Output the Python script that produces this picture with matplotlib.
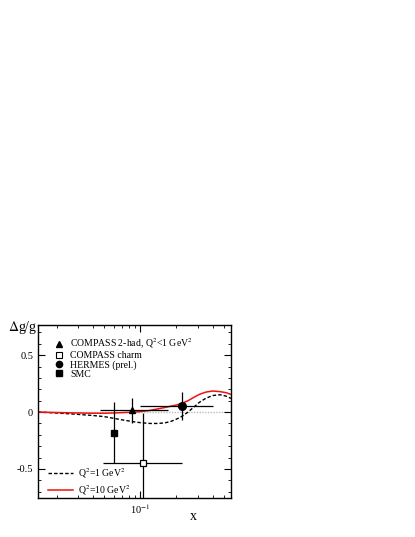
import numpy as np
import matplotlib.pyplot as plt
from matplotlib.lines import Line2D
from matplotlib.ticker import FixedLocator, NullFormatter, MultipleLocator

plt.rcParams['font.family'] = ['Liberation Serif', 'DejaVu Serif']
plt.rcParams['mathtext.fontset'] = 'stix'

# data points
compass_had_x = [0.085]
compass_had_y = [0.016]
compass_had_yerr = [0.11]
compass_had_xerr = [[0.085 - 0.046], [0.171 - 0.085]]

compass_charm_x = [0.105]
compass_charm_y = [-0.45]
compass_charm_yerr = [0.44]
compass_charm_xerr = [[0.105 - 0.049], [0.224 - 0.105]]

hermes_x = [0.224]
hermes_y = [0.053]
hermes_yerr = [0.12]
hermes_xerr = [[0.224 - 0.100], [0.405 - 0.224]]

smc_x = [0.06]
smc_y = [-0.18]
smc_yerr = [0.27]

# curves
q1_x = [0.014, 0.02, 0.03, 0.04, 0.05, 0.06, 0.07, 0.08, 0.09, 0.10, 0.12, 0.14,
        0.16, 0.18, 0.20, 0.22, 0.25, 0.28, 0.31, 0.35, 0.40, 0.46, 0.52, 0.57]
q1_y = [0.0, -0.008, -0.02, -0.03, -0.04, -0.055, -0.068, -0.078, -0.087, -0.093, -0.1, -0.1,
        -0.095, -0.082, -0.062, -0.04, 0.0, 0.045, 0.085, 0.12, 0.145, 0.152, 0.14, 0.12]

q10_x = [0.014, 0.02, 0.03, 0.04, 0.05, 0.06, 0.07, 0.08, 0.09, 0.10, 0.12, 0.14,
         0.16, 0.18, 0.20, 0.22, 0.25, 0.28, 0.31, 0.35, 0.40, 0.46, 0.52, 0.57]
q10_y = [0.0, -0.004, -0.008, -0.01, -0.01, -0.008, -0.005, -0.002, 0.0, 0.004, 0.014, 0.028,
         0.04, 0.052, 0.062, 0.075, 0.1, 0.13, 0.155, 0.175, 0.185, 0.18, 0.17, 0.155]

fig = plt.figure(figsize=(4.15, 5.37), dpi=100)
ax = fig.add_axes([38 / 415, 1 - 498 / 537, 193 / 415, 173 / 537])

ax.axhline(0, color='#bbbbbb', lw=1.0, ls=(0, (1, 1)), zorder=1)

ax.plot(q1_x, q1_y, color='black', lw=1.0, ls=(0, (2.5, 1.5)), zorder=2,
        label=r'Q$^2$=1 GeV$^2$')
ax.plot(q10_x, q10_y, color='#ee1111', lw=1.1, zorder=2,
        label=r'Q$^2$=10 GeV$^2$')

eb = dict(ecolor='black', elinewidth=0.9, capsize=0, ls='none', zorder=3)
ax.errorbar(compass_had_x, compass_had_y, yerr=compass_had_yerr, xerr=compass_had_xerr,
            marker='^', ms=5, mfc='black', mec='black', **eb)
ax.errorbar(compass_charm_x, compass_charm_y, yerr=compass_charm_yerr, xerr=compass_charm_xerr,
            marker='s', ms=5, mfc='white', mec='black', mew=0.9, **eb)
ax.errorbar(hermes_x, hermes_y, yerr=hermes_yerr, xerr=hermes_xerr,
            marker='o', ms=5.5, mfc='black', mec='black', **eb)
ax.errorbar(smc_x, smc_y, yerr=smc_yerr,
            marker='s', ms=5, mfc='black', mec='black', **eb)

ax.set_xscale('log')
ax.set_xlim(0.014, 0.57)
ax.set_ylim(-0.755, 0.765)

ax.xaxis.set_major_locator(FixedLocator([0.1]))
ax.xaxis.set_minor_locator(FixedLocator([0.02, 0.03, 0.04, 0.05, 0.06, 0.07, 0.08, 0.09,
                                         0.2, 0.3, 0.4, 0.5]))
ax.xaxis.set_minor_formatter(NullFormatter())
ax.set_xticklabels([r'10$^{-1}$'])
ax.yaxis.set_major_locator(FixedLocator([-0.5, 0, 0.5]))
ax.yaxis.set_minor_locator(MultipleLocator(0.1))
ax.set_yticklabels(['-0.5', '0', '0.5'])

ax.tick_params(which='both', direction='in', top=True, right=True, labelsize=7.5)
ax.tick_params(which='major', length=5, width=0.8)
ax.tick_params(which='minor', length=2.5, width=0.6)
for s in ax.spines.values():
    s.set_linewidth(1.0)

fig.text(37 / 415, 1 - 328 / 537, r'$\Delta$g/g', fontsize=10, va='center', ha='right')
fig.text(193 / 415, 1 - 517 / 537, 'x', fontsize=10, va='center', ha='center')

# legend with markers only, no error bars
handles = [Line2D([], [], ls='none', marker='^', ms=4, mfc='black', mec='black'),
           Line2D([], [], ls='none', marker='s', ms=4, mfc='white', mec='black', mew=0.8),
           Line2D([], [], ls='none', marker='o', ms=4.5, mfc='black', mec='black'),
           Line2D([], [], ls='none', marker='s', ms=4, mfc='black', mec='black')]
leg1 = ax.legend(handles,
                 [r'COMPASS 2-had, Q$^2$<1 GeV$^2$', 'COMPASS charm', 'HERMES (prel.)', 'SMC'],
                 loc='upper left', bbox_to_anchor=(0.065, 0.955), frameon=False, fontsize=7,
                 handlelength=1.0, handletextpad=0.6, labelspacing=0.0, borderaxespad=0)
ax.add_artist(leg1)
ax.legend(loc='lower left', bbox_to_anchor=(0.03, -0.015), frameon=False, fontsize=7,
          handlelength=2.6, handletextpad=0.5, labelspacing=0.3, borderaxespad=0)

fig.savefig('out.png', dpi=100)
